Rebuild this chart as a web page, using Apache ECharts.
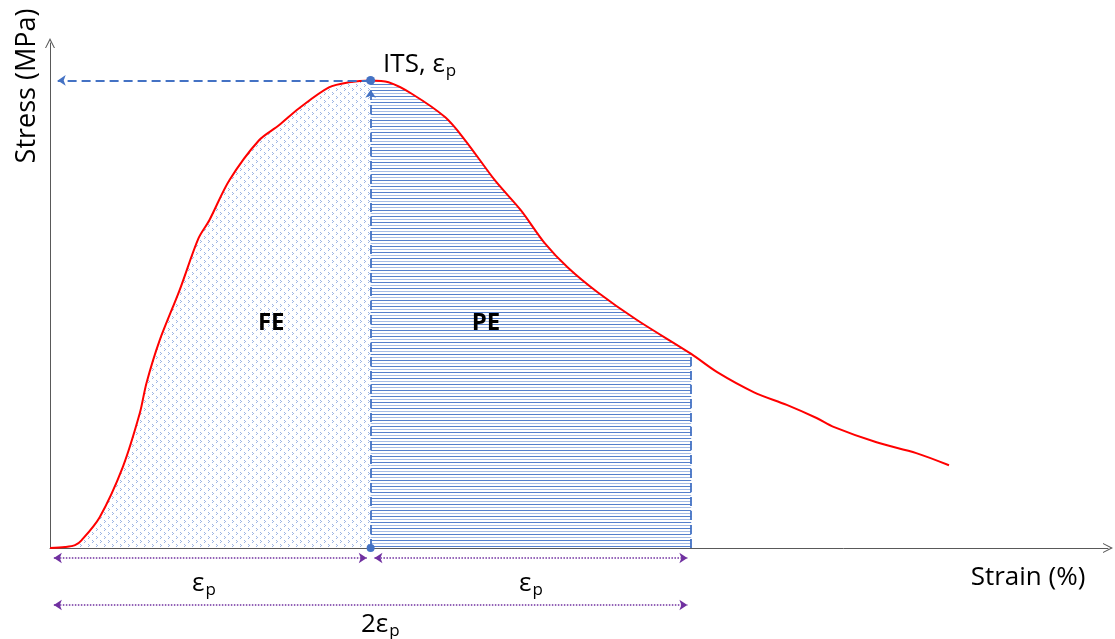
<!DOCTYPE html>
<html>
<head>
<meta charset="utf-8">
<script src="https://cdn.jsdelivr.net/npm/echarts@6/dist/echarts.min.js"></script>
<style>
  html, body { margin: 0; padding: 0; background: #ffffff; }
  #chart { width: 1115px; height: 639px; }
</style>
</head>
<body>
<div id="chart"></div>
<script>
// Indirect tensile test: stress–strain response (normalised to ITS and peak strain)
const strain = [0, 0.047, 0.078, 0.099, 0.155, 0.227, 0.280, 0.301, 0.342, 0.404, 0.463, 0.497,
  0.559, 0.652, 0.714, 0.776, 0.870, 0.932, 1.0, 1.056, 1.127, 1.233, 1.295, 1.388, 1.469,
  1.543, 1.615, 1.708, 1.832, 2.0, 2.081, 2.196, 2.298, 2.391, 2.444, 2.578, 2.702, 2.804];
const stress = [0, 0.002, 0.006, 0.017, 0.066, 0.173, 0.288, 0.353, 0.444, 0.551, 0.662, 0.701,
  0.786, 0.872, 0.904, 0.940, 0.985, 0.996, 1.0, 0.996, 0.972, 0.921, 0.872, 0.786, 0.722,
  0.652, 0.600, 0.547, 0.487, 0.415, 0.376, 0.333, 0.306, 0.278, 0.259, 0.226, 0.203, 0.177];

const EP = 1.0;   // strain at peak (εp)
const ITS = 1.0;  // indirect tensile strength

const regionNames = ['FE', 'PE'];
const axisTitles = ['Strain (%)', 'Stress (MPa)'];

const curve = strain.map((x, i) => [x, stress[i]]);
const feArea = curve.filter(p => p[0] <= EP);
const peArea = curve.filter(p => p[0] >= EP && p[0] <= 2 * EP);
const stressAt2EP = peArea[peArea.length - 1][1];

const FONT = '"Open Sans", "DejaVu Sans", sans-serif';
const BLUE = '#4472c4';
const PURPLE = '#7030a0';
const RED = '#ff0000';
const AXIS = '#595959';

// fill patterns: stipple for FE, horizontal hatching for PE
function stipple() {
  const c = document.createElement('canvas');
  c.width = 8; c.height = 8;
  const g = c.getContext('2d');
  g.fillStyle = '#9cb4e4';
  [[0, 0], [1, 1], [0, 2], [4, 4], [5, 5], [4, 6]].forEach(p => g.fillRect(p[0], p[1], 1, 1));
  return c;
}
function hatch() {
  const c = document.createElement('canvas');
  c.width = 8; c.height = 6;
  const g = c.getContext('2d');
  g.fillStyle = '#5580cc';
  g.fillRect(0, 0, 8, 1);
  g.fillStyle = '#a5bce6';
  g.fillRect(0, 3, 8, 1);
  return c;
}

const chevron = 'path://M0,10 L5,0 L10,10 L8.9,10 L5,2.4 L1.1,10 Z';
const inset = 0.012;     // keeps dimension arrow tips on their end marks
const arrowGap = 0.02;   // room for the peak marker above the arrow head

const rich = {
  b: { fontFamily: FONT, fontSize: 26, color: '#000', lineHeight: 32 },
  s: { fontFamily: FONT, fontSize: 17, color: '#000', lineHeight: 17, padding: [13, 0, 0, 1] }
};

const plainText = { textBorderWidth: 0, textShadowBlur: 0, opacity: 1 };

const option = {
  animation: false,
  backgroundColor: '#ffffff',
  grid: [
    { left: 50, right: 7, top: 43, bottom: 91 },
    { left: 50, right: 7, top: 548, bottom: 0 }
  ],
  xAxis: [
    {
      type: 'value', gridIndex: 0, min: 0, max: 3.3,
      axisLine: { show: true, onZero: false, symbol: ['none', chevron], symbolSize: [13, 10],
        lineStyle: { color: AXIS, width: 1 } },
      axisTick: { show: false }, axisLabel: { show: false }, splitLine: { show: false }
    },
    {
      type: 'value', gridIndex: 1, min: 0, max: 3.3, show: false
    }
  ],
  yAxis: [
    {
      type: 'value', gridIndex: 0, min: 0, max: 1.08,
      axisLine: { show: true, onZero: false, symbol: ['none', chevron], symbolSize: [13, 10],
        lineStyle: { color: AXIS, width: 1 } },
      axisTick: { show: false }, axisLabel: { show: false }, splitLine: { show: false }
    },
    {
      type: 'value', gridIndex: 1, min: 0, max: 91, inverse: true, show: false
    }
  ],
  graphic: [
    { type: 'text', x: 27, y: 86, rotation: Math.PI / 2,
      style: { text: axisTitles[1], fontFamily: FONT, fontSize: 27, fill: '#000',
        align: 'center', verticalAlign: 'middle' } },
    { type: 'text', x: 1028, y: 578,
      style: { text: axisTitles[0], fontFamily: FONT, fontSize: 26, fill: '#000',
        align: 'center', verticalAlign: 'middle' } }
  ],
  series: [
    {
      name: 'FE', type: 'line', data: feArea, smooth: 0.3, symbol: 'none', z: 1,
      lineStyle: { width: 0, opacity: 0 },
      areaStyle: { color: { image: stipple(), repeat: 'repeat' }, opacity: 1 }
    },
    {
      name: 'PE', type: 'line', data: peArea, smooth: 0.3, symbol: 'none', z: 1,
      lineStyle: { width: 0, opacity: 0 },
      areaStyle: { color: { image: hatch(), repeat: 'repeat' }, opacity: 1 }
    },
    {
      name: 'guides', type: 'line', data: [], z: 3,
      markLine: {
        silent: true, animation: false, symbolSize: 8,
        label: { show: false },
        lineStyle: { color: BLUE, width: 1.8, type: [9, 5] },
        data: [
          [{ coord: [EP, 0], symbol: 'circle', symbolSize: 8 },
           { coord: [EP, ITS - arrowGap], symbol: 'arrow', symbolSize: 8 }],
          [{ coord: [EP, ITS], symbol: 'none' },
           { coord: [inset * 2, ITS], symbol: 'arrow', symbolSize: 8 }],
          [{ coord: [2 * EP, 0], symbol: 'none' },
           { coord: [2 * EP, stressAt2EP], symbol: 'none' }]
        ]
      }
    },
    {
      name: 'curve', type: 'line', data: curve, smooth: 0.3, symbol: 'none', z: 4,
      lineStyle: { color: RED, width: 2 }
    },
    {
      name: 'peak', type: 'scatter', data: [[EP, ITS]], symbol: 'circle', symbolSize: 9, z: 5,
      itemStyle: { color: BLUE, opacity: 1 },
      label: Object.assign({
        show: true, position: 'right', offset: [3, -16],
        formatter: '{b|ITS, ε}{s|p}', rich: rich
      }, plainText)
    },
    {
      name: 'regions', type: 'scatter', symbolSize: 0, z: 5,
      itemStyle: { opacity: 1 },
      data: [
        { value: [0.69 * EP, 0.48 * ITS], name: regionNames[0] },
        { value: [1.36 * EP, 0.48 * ITS], name: regionNames[1] }
      ],
      label: Object.assign({
        show: true, position: 'inside', formatter: '{b}',
        fontFamily: FONT, fontSize: 24, fontWeight: 'bold', color: '#000'
      }, plainText)
    },
    {
      name: 'dimensions', type: 'line', data: [], xAxisIndex: 1, yAxisIndex: 1,
      markLine: {
        silent: true, animation: false, symbol: ['arrow', 'arrow'], symbolSize: 8,
        label: { show: false },
        lineStyle: { color: PURPLE, width: 1.5, type: 'dotted' },
        data: [
          [{ coord: [inset, 10] }, { coord: [EP - inset, 10] }],
          [{ coord: [EP + inset, 10] }, { coord: [2 * EP - inset, 10] }],
          [{ coord: [inset, 57] }, { coord: [2 * EP - inset, 57] }]
        ]
      }
    },
    {
      name: 'dimension labels', type: 'scatter', symbolSize: 0, xAxisIndex: 1, yAxisIndex: 1,
      itemStyle: { opacity: 1 },
      data: [
        { value: [0.48 * EP, 36], name: '{b|ε}{s|p}' },
        { value: [1.5 * EP, 36], name: '{b|ε}{s|p}' },
        { value: [1.03 * EP, 77], name: '{b|2ε}{s|p}' }
      ],
      label: Object.assign({ show: true, position: 'inside', formatter: p => p.name, rich: rich },
        plainText)
    }
  ]
};

const chart = echarts.init(document.getElementById('chart'));
chart.setOption(option);
</script>
</body>
</html>
